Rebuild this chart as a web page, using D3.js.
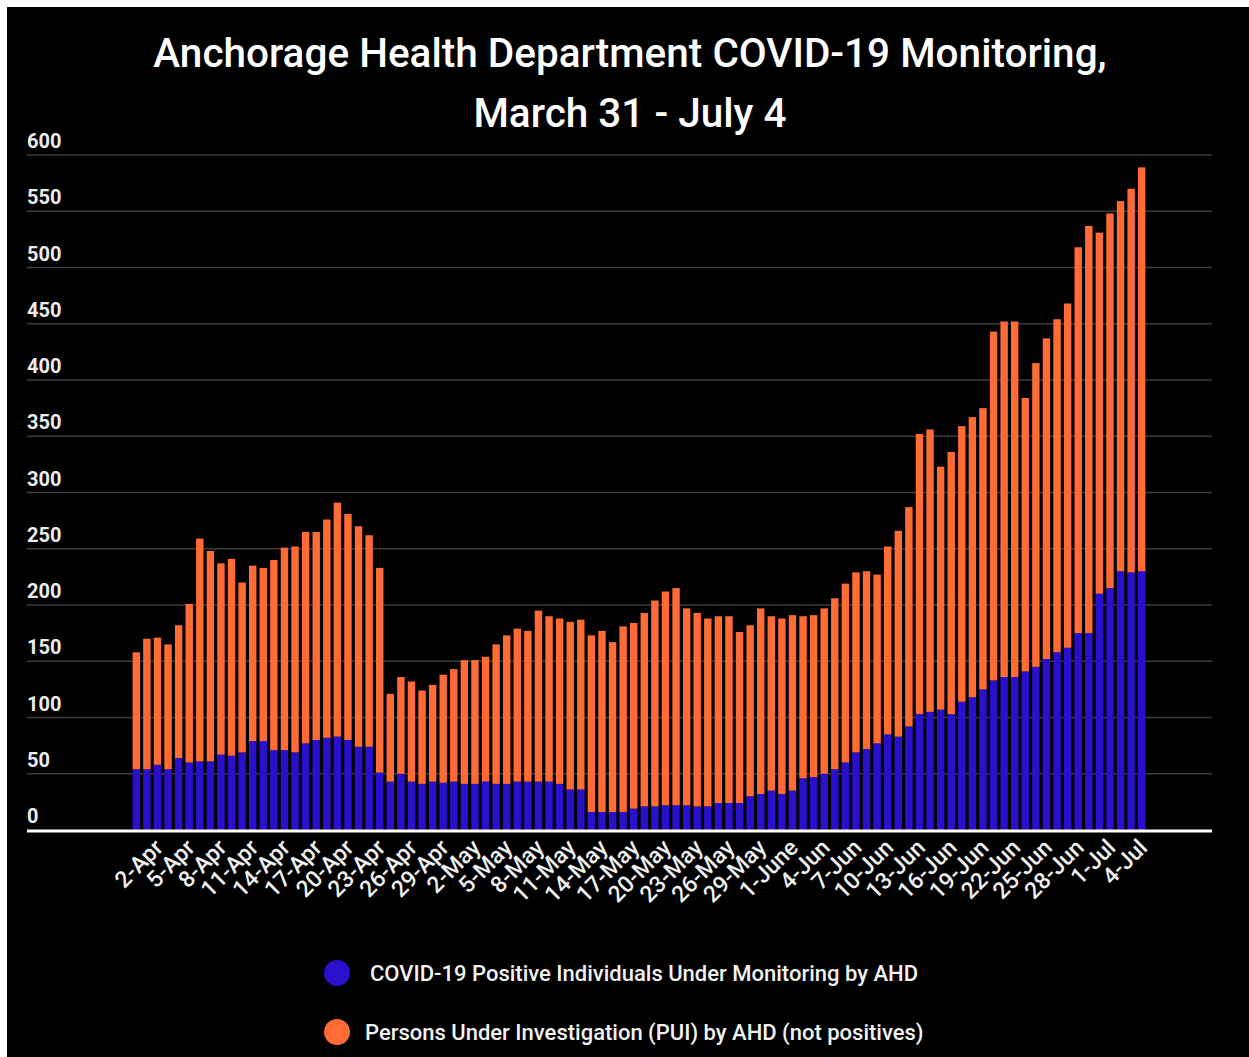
<!DOCTYPE html>
<html>
<head>
<meta charset="utf-8">
<script src="https://d3js.org/d3.v7.min.js"></script>
<style>
  html, body { margin: 0; padding: 0; background: #fff; }
  svg { display: block; font-family: Roboto, 'Noto Sans', sans-serif; }
</style>
</head>
<body>
<svg id="chart" width="1249" height="1057"></svg>
<script>
// values, one per day from 31 Mar to 4 Jul
const positives = [
  54, 54, 58, 54, 64, 60, 61, 61, 67, 66, 69, 79, 79, 71, 71, 69, 77, 80, 82, 83,
  80, 74, 74, 51, 43, 50, 43, 41, 43, 42, 43, 41, 41, 43, 41, 41, 43, 43, 43, 43,
  41, 36, 36, 16, 16, 16, 16, 19, 21, 21, 22, 22, 22, 21, 21, 24, 24, 24, 30, 32,
  35, 32, 35, 46, 47, 50, 54, 60, 69, 72, 77, 85, 83, 92, 103, 105, 107, 103, 114, 118,
  125, 133, 136, 136, 141, 145, 152, 158, 162, 175, 175, 210, 215, 230, 229, 230
];
const puis = [
  104, 116, 113, 111, 118, 141, 198, 187, 170, 175, 151, 156, 154, 169, 180, 183, 188, 185, 194, 208,
  201, 196, 188, 182, 78, 86, 89, 83, 86, 96, 100, 110, 110, 111, 124, 132, 136, 134, 152, 147,
  147, 149, 151, 157, 161, 151, 165, 165, 172, 183, 190, 193, 175, 172, 167, 166, 166, 152, 152, 165,
  155, 156, 156, 144, 144, 147, 152, 159, 160, 158, 150, 167, 183, 195, 249, 251, 216, 233, 245, 249,
  250, 310, 316, 316, 243, 270, 285, 296, 306, 343, 362, 321, 333, 329, 341, 359
];
const tickLabels = [
  '2-Apr', '5-Apr', '8-Apr', '11-Apr', '14-Apr', '17-Apr', '20-Apr', '23-Apr', '26-Apr', '29-Apr',
  '2-May', '5-May', '8-May', '11-May', '14-May', '17-May', '20-May', '23-May', '26-May', '29-May',
  '1-June', '4-Jun', '7-Jun', '10-Jun', '13-Jun', '16-Jun', '19-Jun', '22-Jun', '25-Jun', '28-Jun',
  '1-Jul', '4-Jul'
];
const yTicks = [0, 50, 100, 150, 200, 250, 300, 350, 400, 450, 500, 550, 600];
const seriesNames = [
  'COVID-19 Positive Individuals Under Monitoring by AHD',
  'Persons Under Investigation (PUI) by AHD (not positives)'
];
const colors = ['#2a10cc', '#ff6b35'];

const days = d3.range(positives.length);
const rows = days.map(i => ({ i, positive: positives[i], pui: puis[i] }));

const svg = d3.select('#chart');

// black card, with the thin white edge at top/left
svg.append('rect')
  .attr('x', 7).attr('y', 7)
  .attr('width', 1242).attr('height', 1050)
  .attr('fill', '#000');

// title
const title = svg.append('text')
  .attr('text-anchor', 'middle')
  .attr('fill', '#fff')
  .style('font-size', '40.5px')
  .style('font-weight', 500);
title.append('tspan').attr('x', 630).attr('y', 67).text('Anchorage Health Department COVID-19 Monitoring,');
title.append('tspan').attr('x', 630).attr('y', 127).text('March 31 - July 4');

const x = d3.scaleBand()
  .domain(days)
  .range([131, 1147])
  .paddingInner(0.3)
  .paddingOuter(0.15);

const y = d3.scaleLinear()
  .domain([0, 600])
  .range([830, 155]);

// gridlines + y labels
const grid = svg.append('g');
grid.selectAll('line')
  .data(yTicks.filter(d => d > 0))
  .join('line')
  .attr('x1', 27).attr('x2', 1212)
  .attr('y1', d => y(d)).attr('y2', d => y(d))
  .attr('stroke', '#3c3c3c')
  .attr('stroke-width', 1.5);

grid.selectAll('text')
  .data(yTicks)
  .join('text')
  .attr('x', 27)
  .attr('y', d => y(d) - 7)
  .attr('fill', '#ececec')
  .style('font-size', '20px')
  .style('font-weight', 700)
  .text(d => d);

// stacked bars
const stack = d3.stack().keys(['positive', 'pui'])(rows);

svg.append('g')
  .selectAll('g')
  .data(stack)
  .join('g')
  .attr('fill', (d, i) => colors[i])
  .selectAll('rect')
  .data(d => d)
  .join('rect')
  .attr('x', d => x(d.data.i))
  .attr('width', x.bandwidth())
  .attr('y', d => y(d[1]))
  .attr('height', d => y(d[0]) - y(d[1]));

// baseline
svg.append('line')
  .attr('x1', 27).attr('x2', 1212)
  .attr('y1', y(0) + 1).attr('y2', y(0) + 1)
  .attr('stroke', '#fff')
  .attr('stroke-width', 3);

// x labels, every third day from 2-Apr
svg.append('g')
  .selectAll('text')
  .data(tickLabels)
  .join('text')
  .attr('text-anchor', 'end')
  .attr('fill', '#f0f0f0')
  .style('font-size', '23px')
  .style('font-weight', 500)
  .attr('transform', (d, k) => {
    const cx = x(2 + k * 3) + x.bandwidth() / 2;
    return `translate(${cx + 7},${849}) rotate(-45)`;
  })
  .text(d => d);

// legend
const legend = svg.append('g')
  .selectAll('g')
  .data(seriesNames)
  .join('g')
  .attr('transform', (d, i) => `translate(337,${973 + i * 59})`);

legend.append('circle')
  .attr('r', 13)
  .attr('fill', (d, i) => colors[i]);

legend.append('text')
  .attr('x', (d, i) => i === 0 ? 33 : 28)
  .attr('y', 7.5)
  .attr('fill', '#f2f2f2')
  .style('font-size', '22px')
  .style('font-weight', 500)
  .text(d => d);
</script>
</body>
</html>
